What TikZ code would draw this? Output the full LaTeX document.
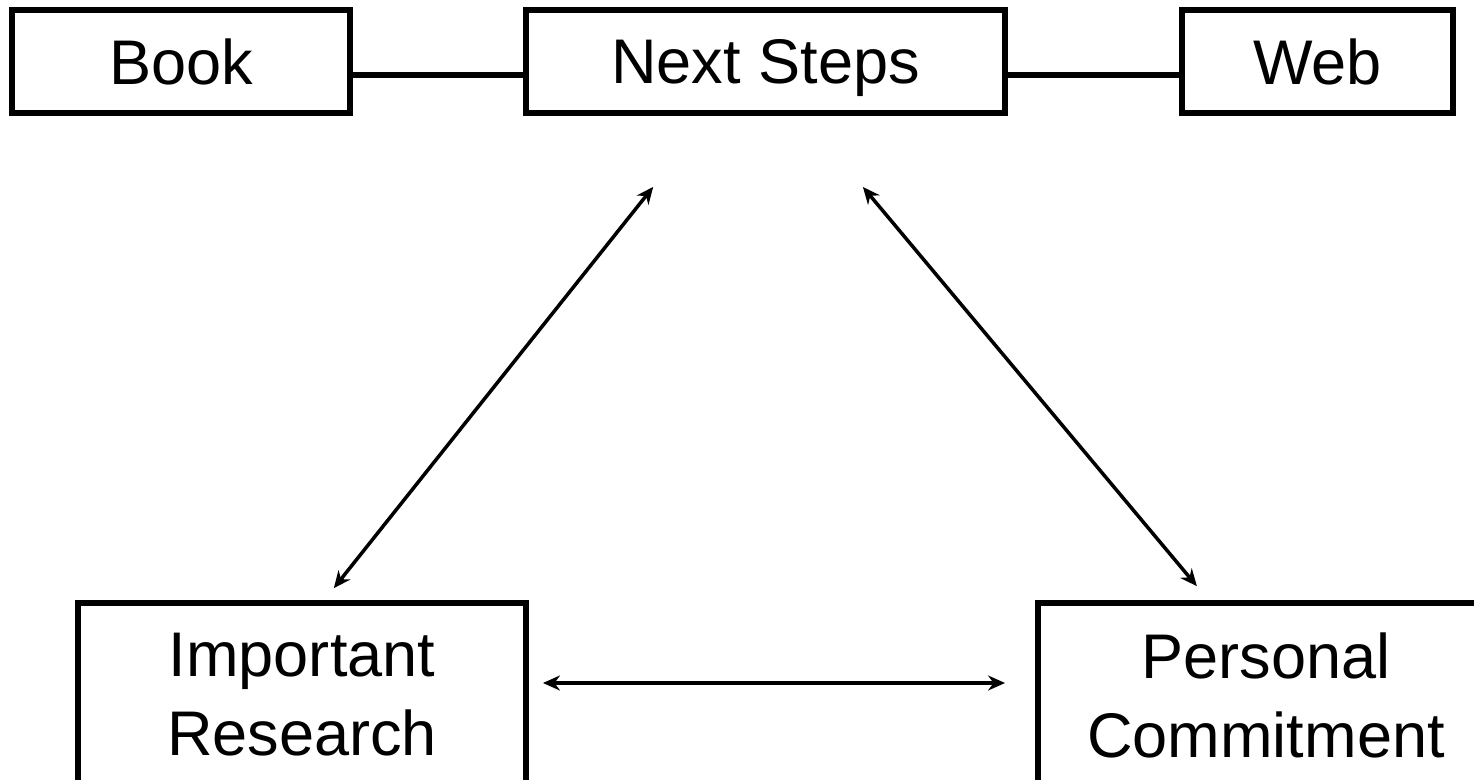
\documentclass[tikz,border=0pt]{standalone}
\usepackage{fontspec}
\setmainfont{Liberation Sans}
\usetikzlibrary{arrows.meta,positioning}
\begin{document}
\begin{tikzpicture} [x=0.02cm,y=-0.02cm,{topbox/.style={rectangle,draw=black,line width=3.2pt,minimum height=2.06cm,inner sep=0pt,outer sep=0pt,text depth=0pt,font=\fontsize{35.9}{45}\selectfont}},{lowbox/.style={rectangle,draw=black,line width=3.2pt,minimum height=3.68cm,inner sep=0pt,outer sep=0pt,align=center,font=\fontsize{35.9}{45}\selectfont}},{linkst/.style={line width=3.1pt}},{arrst/.style={line width=2pt,<->,>={Stealth[length=0.34cm,width=0.3cm]}}}]
		%%frame
		\useasboundingbox (0,0) rectangle (1474,780);
		\clip (0,0) rectangle (1474,780);
		%%top row
		\node at (181,61.5) [topbox,minimum width=6.76cm] (book) {Book};
		\node at (765.5,61.5) [topbox,minimum width=9.58cm] (next) {Next Steps};
		\node at (1317.5,61.5) [topbox,minimum width=5.42cm] (web) {Web};
		%%bottom row
		\node at (302,695) [lowbox,minimum width=8.96cm] (research) {Important\\Research};
		\node at (1266,695) [lowbox,minimum width=9.12cm] (commit) {Personal\\Commitment};
		%%links
		\draw [linkst] ([yshift=-0.27cm]book.east) -- ([yshift=-0.27cm]next.west);
		\draw [linkst] ([yshift=-0.27cm]next.east) -- ([yshift=-0.27cm]web.west);
		%%arrows
		\draw [arrst,shorten <=1.89cm,shorten >=0.38cm] ([xshift=-1.07cm]next.south) -- ([xshift=0.4cm]research.north);
		\draw [arrst,shorten <=1.93cm,shorten >=0.44cm] ([xshift=0.71cm]next.south) -- ([xshift=-1.1cm]commit.north);
		\draw [arrst,shorten <=0.34cm,shorten >=0.66cm] ([yshift=0.24cm]research.east) -- ([yshift=0.24cm]commit.west);
	\end{tikzpicture}
\end{document}
